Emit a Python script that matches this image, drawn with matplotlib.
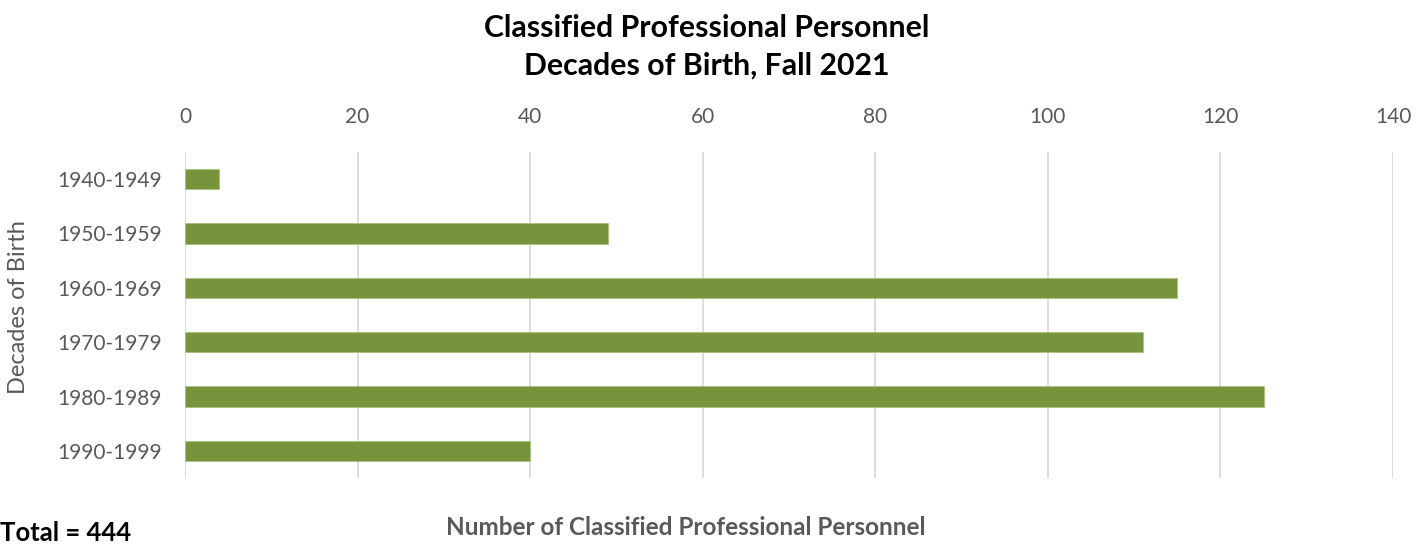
import matplotlib
matplotlib.use("Agg")
import matplotlib.pyplot as plt

categories = ["1940-1949", "1950-1959", "1960-1969", "1970-1979", "1980-1989", "1990-1999"]
values = [4, 49, 115, 111, 125, 40]
xticks = [0, 20, 40, 60, 80, 100, 120, 140]

plt.rcParams['font.family'] = ['Lato', 'DejaVu Sans']

fig = plt.figure(figsize=(14.27, 5.44), dpi=100)
ax = fig.add_axes([0.1296, 0.1213, 0.8466, 0.5993])

ax.barh(categories, values, height=0.37, color="#77933C", edgecolor="#A9C47F", linewidth=0.6, zorder=3)
ax.set_ylim(5.5, -0.5)
ax.set_xlim(0, 140)
ax.set_xticks(xticks)
ax.xaxis.tick_top()
ax.tick_params(axis='x', length=0, pad=18, labelsize=15, colors="#595959")
ax.tick_params(axis='y', length=0, pad=16.5, labelsize=15, colors="#595959")
ax.grid(axis='x', color="#D9D9D9", linewidth=1.3, zorder=0)
for s in ax.spines.values():
    s.set_visible(False)

fig.text(0.0133, 0.4357, "Decades of Birth", rotation=90, ha='center', va='center',
         fontsize=17, color="#595959")
fig.text(0.4807, 0.031, "Number of Classified Professional Personnel", ha='center', va='center',
         fontsize=17.5, fontweight='bold', color="#595959")
fig.text(0.0, 0.020, "Total = 444", ha='left', va='center', fontsize=18.5, fontweight='bold', color="black")
fig.text(0.4955, 0.914, "Classified Professional Personnel\nDecades of Birth, Fall 2021", ha='center', va='center',
         fontsize=21.8, fontweight='bold', color="black", linespacing=1.4)

fig.savefig("out.png", dpi=100)
